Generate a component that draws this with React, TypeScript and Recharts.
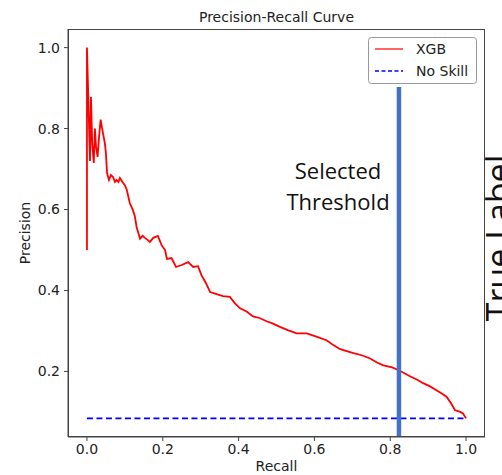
import React from 'react';
import { LineChart, Line, XAxis, YAxis, ReferenceLine } from 'recharts';

// XGB precision-recall curve
const xgbRecall = [
	0, 0, 0.008, 0.0106, 0.014, 0.018, 0.021, 0.024, 0.028, 0.032, 0.036, 0.042,
	0.047, 0.05, 0.053, 0.058, 0.063, 0.069, 0.074, 0.078, 0.083, 0.087, 0.095,
	0.1, 0.105, 0.113, 0.121, 0.126, 0.131, 0.14, 0.147, 0.153, 0.16, 0.166,
	0.175, 0.187, 0.197, 0.206, 0.211, 0.223, 0.235, 0.25, 0.267, 0.28, 0.293,
	0.302, 0.314, 0.325, 0.342, 0.359, 0.377, 0.39, 0.404, 0.421, 0.438, 0.455,
	0.474, 0.491, 0.509, 0.53, 0.553, 0.58, 0.605, 0.632, 0.65, 0.668, 0.703,
	0.725, 0.747, 0.765, 0.782, 0.805, 0.823, 0.852, 0.87, 0.887, 0.905, 0.923,
	0.94, 0.949, 0.96, 0.971, 0.985, 0.992, 1.0,
];
const xgbPrecision = [
	0.5, 1.0, 0.72, 0.878, 0.76, 0.715, 0.8, 0.755, 0.73, 0.78, 0.822, 0.79,
	0.765, 0.74, 0.69, 0.673, 0.685, 0.68, 0.668, 0.673, 0.668, 0.678, 0.666,
	0.66, 0.649, 0.616, 0.599, 0.585, 0.557, 0.528, 0.535, 0.53, 0.525, 0.52,
	0.53, 0.535, 0.512, 0.5, 0.478, 0.48, 0.458, 0.463, 0.47, 0.458, 0.46, 0.438,
	0.418, 0.396, 0.391, 0.386, 0.384, 0.369, 0.356, 0.348, 0.336, 0.332, 0.324,
	0.318, 0.31, 0.302, 0.294, 0.294, 0.286, 0.277, 0.265, 0.255, 0.245, 0.24,
	0.232, 0.222, 0.215, 0.21, 0.203, 0.188, 0.18, 0.171, 0.163, 0.153, 0.143,
	0.137, 0.122, 0.104, 0.1, 0.096, 0.084,
];
const noSkillRecall = [0, 1];
const noSkillPrecision = [0.084, 0.084];

const selectedThreshold = 0.823;
const thresholdTop = 0.903;

const xTicks = [0, 0.2, 0.4, 0.6, 0.8, 1.0];
const yTicks = [0.2, 0.4, 0.6, 0.8, 1.0];

const xgbData = xgbRecall.map((r, i) => ({ recall: r, precision: xgbPrecision[i] }));
const noSkillData = noSkillRecall.map((r, i) => ({ recall: r, precision: noSkillPrecision[i] }));

const font = 'DejaVu Sans, sans-serif';
const tickStyle = { fontSize: 14, fill: '#222', fontFamily: font };

export default function App() {
	return (
		<div style={{ position: 'absolute', left: 0, top: 0, width: 502, height: 475, background: '#fff', overflow: 'hidden' }}>
			<LineChart
				width={502}
				height={475}
				margin={{ top: 29, right: 17, left: 8, bottom: 8 }}
			>
				<XAxis
					dataKey="recall"
					type="number"
					domain={[-0.05, 1.05]}
					ticks={xTicks}
					tickFormatter={(v: number) => v.toFixed(1)}
					allowDataOverflow
					height={30}
					tickSize={4}
					tickMargin={3}
					stroke="#444"
					tick={tickStyle}
					label={{ value: 'Recall', position: 'insideBottom', offset: -4, style: { fontSize: 14, fill: '#222', fontFamily: font } }}
				/>
				<YAxis
					type="number"
					domain={[0.038, 1.046]}
					ticks={yTicks}
					tickFormatter={(v: number) => v.toFixed(1)}
					allowDataOverflow
					width={60}
					tickSize={4}
					tickMargin={4}
					stroke="#444"
					tick={tickStyle}
					label={{ value: 'Precision', angle: -90, position: 'insideLeft', offset: 17, style: { fontSize: 14, fill: '#222', fontFamily: font, textAnchor: 'middle' } }}
				/>
				<Line
					data={noSkillData}
					dataKey="precision"
					stroke="#0000ff"
					strokeWidth={1.6}
					strokeDasharray="6 3.5"
					dot={false}
					isAnimationActive={false}
				/>
				<Line
					data={xgbData}
					dataKey="precision"
					stroke="#ff0000"
					strokeWidth={1.8}
					dot={false}
					isAnimationActive={false}
				/>
				<ReferenceLine
					segment={[
						{ x: selectedThreshold, y: 0.038 },
						{ x: selectedThreshold, y: thresholdTop },
					]}
					stroke="#4472C4"
					strokeWidth={4.5}
					ifOverflow="visible"
				/>
			</LineChart>
			<svg width={502} height={475} style={{ position: 'absolute', left: 0, top: 0, pointerEvents: 'none' }}>
				<rect x={68.5} y={29.5} width={416} height={407} fill="none" stroke="#444" strokeWidth={1} />
				<text x={276.5} y={22} textAnchor="middle" fontSize={14} fill="#222" fontFamily={font}>
					Precision-Recall Curve
				</text>
				<text x={338} y={179} textAnchor="middle" fontSize={22} fill="#111" fontFamily="Open Sans, sans-serif">
					Selected
				</text>
				<text x={338} y={210} textAnchor="middle" fontSize={22} fill="#111" fontFamily="Open Sans, sans-serif">
					Threshold
				</text>
				<text x={511} y={238} textAnchor="middle" fontSize={34} fill="#111" fontFamily="Open Sans, sans-serif" transform="rotate(-90 511 238)">
					True Label
				</text>
				<rect x={368.5} y={37.5} width={108} height={46} rx={3} fill="#fff" stroke="#999" strokeWidth={1} />
				<line x1={375} y1={49} x2={403} y2={49} stroke="#ff0000" strokeWidth={1.2} />
				<text x={416} y={54} fontSize={14} fill="#222" fontFamily={font}>XGB</text>
				<line x1={375} y1={71} x2={403} y2={71} stroke="#0000ff" strokeWidth={1.6} strokeDasharray="4 2.5" />
				<text x={416} y={76} fontSize={14} fill="#222" fontFamily={font}>No Skill</text>
			</svg>
		</div>
	);
}
